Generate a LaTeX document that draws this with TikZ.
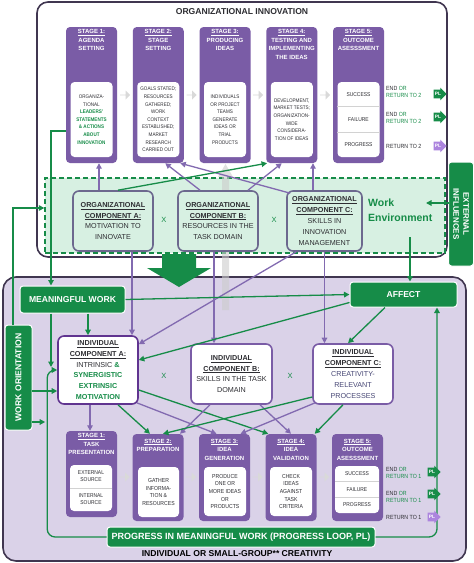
\documentclass[tikz,border=0pt]{standalone}
\usepackage{fontspec}
\setmainfont{Liberation Sans}
\newfontfamily\narrowsf[FakeStretch=0.88]{Liberation Sans}
\usetikzlibrary{arrows.meta,shapes.arrows}

\definecolor{stagepurple}{RGB}{122,92,166}
\definecolor{linepurple}{RGB}{130,106,176}
\definecolor{deeppurple}{RGB}{96,52,144}
\definecolor{leafgreen}{RGB}{22,140,72}
\definecolor{palegreen}{RGB}{215,240,226}
\definecolor{lavender}{RGB}{218,210,232}
\definecolor{framegray}{RGB}{64,54,80}
\definecolor{compgray}{RGB}{108,104,142}
\definecolor{inktext}{RGB}{45,45,50}
\definecolor{slatetext}{RGB}{72,72,118}
\definecolor{plpurple}{RGB}{172,132,222}

\begin{document}
\begin{tikzpicture}[x=1pt, y=-1pt, >={Triangle[length=5.5pt,width=5.5pt]},
  stagebox/.style={rounded corners=4pt, fill=stagepurple, minimum width=51pt, inner sep=0pt},
  headtxt/.style={anchor=north, inner sep=0pt, align=center, text=white, font=\bfseries\fontsize{6}{8.5}\selectfont},
  inbox/.style={rounded corners=4pt, fill=white, inner sep=0pt, align=center, text=inktext, font=\narrowsf\fontsize{5.2}{7.6}\selectfont},
  lowbox/.style={inbox, font=\narrowsf\fontsize{5.8}{7.7}\selectfont},
  celltxt/.style={inner sep=0pt, align=center, text=inktext, font=\narrowsf\fontsize{5.6}{7}\selectfont},
  sidetxt/.style={anchor=west, inner sep=0pt, align=left, text=inktext, font=\narrowsf\fontsize{6}{7.4}\selectfont},
  ocomp/.style={rounded corners=6pt, draw=compgray, line width=1.6pt, fill=palegreen, minimum width=80pt, minimum height=60pt, inner sep=0pt, align=center, text=inktext, font=\fontsize{7.2}{10.8}\selectfont},
  icomp/.style={ocomp, fill=white, draw=stagepurple},
  gbox/.style={rounded corners=3pt, fill=leafgreen, draw=white, line width=1pt, inner sep=0pt, text=white, align=center, font=\bfseries\fontsize{8.6}{10}\selectfont},
  grayarr/.style={single arrow, fill=gray!30, minimum width=9pt, minimum height=10pt, single arrow head extend=2pt, inner sep=0pt},
  plarr/.style={single arrow, fill=leafgreen, text=white, single arrow head extend=2pt, inner xsep=1pt, inner ysep=2.6pt, font=\bfseries\fontsize{4.8}{4.8}\selectfont},
  xmark/.style={text=leafgreen, font=\fontsize{7.5}{7.5}\selectfont},
  garrow/.style={->, draw=leafgreen, line width=1.3pt},
  parrow/.style={->, draw=linepurple, line width=1.3pt}]
\useasboundingbox (0,0) rectangle (474,563);

% the two frames
\node[draw=framegray, line width=1.6pt, fill=white, rounded corners=11pt, minimum width=410pt, minimum height=255pt] (orgframe) at (242,129.5) {};
\node[draw=framegray, line width=1.6pt, fill=lavender, rounded corners=13pt, minimum width=463pt, minimum height=284pt] (indframe) at (234.5,419) {};
\node[text=inktext, font=\bfseries\fontsize{8.6}{9}\selectfont] (orgtitle) at (242,12) {ORGANIZATIONAL INNOVATION};
\node[text=black, font=\bfseries\fontsize{8.6}{9}\selectfont] (indtitle) at (237,554) {INDIVIDUAL OR SMALL-GROUP** CREATIVITY};
\node[draw=leafgreen, fill=palegreen, dash pattern=on 5pt off 3pt, line width=1.3pt, minimum width=400pt, minimum height=75pt, inner sep=0pt] (workenv) at (245,215.5) {};

\fill[gray!40, opacity=0.6] (222,310) -- (229,310) -- (229,177) -- (233,177) -- (225.5,164) -- (218,177) -- (222,177) -- cycle;
\fill[leafgreen] (162,254) -- (196,254) -- (196,268) -- (211,268) -- (179,287) -- (147,268) -- (162,268) -- cycle;

% organizational stages
\foreach \n/\hd in {1/{AGENDA\\SETTING}, 2/{STAGE\\SETTING}, 3/{PRODUCING\\IDEAS}, 4/{TESTING AND\\IMPLEMENTING\\THE IDEAS}, 5/{OUTCOME\\ASESSSMENT}}
{
  \node[stagebox, minimum height=136pt] (ts\n) at ({91.5+66.75*(\n-1)},95) {};
  \node[headtxt] (th\n) at ([yshift=-2.5pt]ts\n.north) {\underline{STAGE \n:}\\\hd};
}
\node[inbox, minimum width=42pt, minimum height=75pt] (ti1) at (91.5,119.5) {ORGANIZA-\\TIONAL\\\textcolor{leafgreen}{\bfseries LEADERS'}\\\textcolor{leafgreen}{\bfseries STATEMENTS}\\\textcolor{leafgreen}{\bfseries \& ACTIONS}\\\textcolor{leafgreen}{\bfseries ABOUT}\\\textcolor{leafgreen}{\bfseries INNOVATION}};
\node[inbox, minimum width=42pt, minimum height=75pt] (ti2) at (158.25,119.5) {GOALS STATED;\\RESOURCES\\GATHERED;\\WORK\\CONTEXT\\ESTABLISHED;\\MARKET\\RESEARCH\\CARRIED OUT};
\node[inbox, minimum width=42pt, minimum height=75pt] (ti3) at (225,119.5) {INDIVIDUALS\\OR PROJECT\\TEAMS\\GENERATE\\IDEAS OR\\TRIAL\\PRODUCTS};
\node[inbox, minimum width=42pt, minimum height=75pt] (ti4) at (291.75,119.5) {DEVELOPMENT,\\MARKET TESTS;\\ORGANIZATION-\\WIDE\\CONSIDERA-\\TION OF IDEAS};
\node[inbox, minimum width=42pt, minimum height=75pt] (ti5) at (358.5,119.5) {};
\draw[gray!35, line width=1pt] ([yshift=-25pt]ti5.north west) -- ([yshift=-25pt]ti5.north east)
  ([yshift=25pt]ti5.south west) -- ([yshift=25pt]ti5.south east);
\node[celltxt] (tc1) at (358.5,94.5) {SUCCESS};
\node[celltxt] (tc2) at (358.5,119.5) {FAILURE};
\node[celltxt] (tc3) at (358.5,144.5) {PROGRESS};
\node[sidetxt] (tr1) at (386,92) {END \textcolor{leafgreen}{OR}\\\textcolor{leafgreen}{RETURN TO 2}};
\node[sidetxt] (tr2) at (386,118) {END \textcolor{leafgreen}{OR}\\\textcolor{leafgreen}{RETURN TO 2}};
\node[sidetxt] (tr3) at (386,146) {RETURN TO 2};

% organizational components
\node[ocomp] (oca) at (113,221) {\underline{\textbf{ORGANIZATIONAL}}\\\underline{\textbf{COMPONENT A:}}\\MOTIVATION TO\\INNOVATE};
\node[ocomp] (ocb) at (218,221) {\underline{\textbf{ORGANIZATIONAL}}\\\underline{\textbf{COMPONENT B:}}\\RESOURCES IN THE\\TASK DOMAIN};
\node[ocomp, minimum width=75pt] (occ) at (324.5,221) {\underline{\textbf{ORGANIZATIONAL}}\\\underline{\textbf{COMPONENT C:}}\\SKILLS IN\\INNOVATION\\MANAGEMENT};
\node[xmark] (ox1) at (164,220) {X};
\node[xmark] (ox2) at (274,220) {X};
\node[anchor=west, align=left, inner sep=0pt, text=leafgreen, font=\bfseries\fontsize{10.5}{15}\selectfont] (envtext) at (368,210.5) {Work\\Environment};
\coordinate (envin) at (426,203);
\coordinate (envout) at (410,237);

% green boxes
\node[gbox, minimum width=25pt, minimum height=104pt] (ext) at (461,214) {};
\node[rotate=-90, align=center, text=white, font=\bfseries\fontsize{8}{10}\selectfont] (extlabel) at (ext) {EXTERNAL\\INFLUENCES};
\node[gbox, minimum width=105pt, minimum height=27pt] (mw) at (72.5,299.5) {MEANINGFUL WORK};
\node[gbox, minimum width=107pt, minimum height=25pt] (aff) at (403.5,294.5) {AFFECT};
\node[gbox, minimum width=27pt, minimum height=105pt] (wo) at (18.5,377.5) {};
\node[rotate=90, text=white, font=\bfseries\fontsize{8.6}{10}\selectfont] (wolabel) at (wo) {WORK ORIENTATION};
\node[gbox, minimum width=268pt, minimum height=20pt, font=\bfseries\fontsize{9}{10}\selectfont] (pl) at (241,537) {PROGRESS IN MEANINGFUL WORK (PROGRESS LOOP, PL)};

% individual components
\node[icomp, draw=deeppurple, minimum height=68pt] (ica) at (98,370) {\underline{\textbf{INDIVIDUAL}}\\\underline{\textbf{COMPONENT A:}}\\INTRINSIC \textcolor{leafgreen}{\textbf{\&}}\\\textcolor{leafgreen}{\textbf{SYNERGISTIC}}\\\textcolor{leafgreen}{\textbf{EXTRINSIC}}\\\textcolor{leafgreen}{\textbf{MOTIVATION}}};
\node[icomp, minimum width=81pt] (icb) at (231.5,374) {\underline{\textbf{INDIVIDUAL}}\\\underline{\textbf{COMPONENT B:}}\\SKILLS IN THE TASK\\DOMAIN};
\node[icomp] (icc) at (353,374) {\underline{\textbf{INDIVIDUAL}}\\\underline{\textbf{COMPONENT C:}}\\\textcolor{slatetext}{CREATIVITY-}\\\textcolor{slatetext}{RELEVANT}\\\textcolor{slatetext}{PROCESSES}};
\node[xmark] (ix1) at (164,376) {X};
\node[xmark] (ix2) at (290,376) {X};
\coordinate (lp) at ([xshift=-10pt]ica.west);

% individual stages
\foreach \n/\hd/\yc/\hh/\gp in {1/{TASK\\PRESENTATION}/474/86pt/2.5pt, 2/{PREPARATION}/477.5/87pt/5pt, 3/{IDEA\\GENERATION}/477.5/87pt/5pt, 4/{IDEA\\VALIDATION}/477.5/87pt/5pt, 5/{OUTCOME\\ASESSSMENT}/477.5/87pt/5pt}
{
  \node[stagebox, minimum height=\hh] (bs\n) at ({91.5+66.5*(\n-1)},\yc) {};
  \node[headtxt] (bh\n) at ([yshift=-\gp]bs\n.north) {\underline{STAGE \n:}\\\hd};
}
\node[lowbox, minimum width=42pt, minimum height=46pt] (bi1) at (91,488) {};
\draw[gray!35, line width=1pt] (bi1.west) -- (bi1.east);
\node[celltxt] (bc1) at (91,476.5) {EXTERNAL\\SOURCE};
\node[celltxt] (bc2) at (91,499.5) {INTERNAL\\SOURCE};
\node[lowbox, minimum width=41pt, minimum height=50pt] (bi2) at (158.5,492) {GATHER\\INFORMA-\\TION \&\\RESOURCES};
\node[lowbox, minimum width=42pt, minimum height=49pt] (bi3) at (225,491.5) {PRODUCE\\ONE OR\\MORE IDEAS\\OR\\PRODUCTS};
\node[lowbox, minimum width=42pt, minimum height=49pt] (bi4) at (291,491.5) {CHECK\\IDEAS\\AGAINST\\TASK\\CRITERIA};
\node[lowbox, minimum width=44pt, minimum height=47pt] (bi5) at (357,489.5) {};
\draw[gray!35, line width=1pt] ([yshift=-15.7pt]bi5.north west) -- ([yshift=-15.7pt]bi5.north east)
  ([yshift=15.7pt]bi5.south west) -- ([yshift=15.7pt]bi5.south east);
\node[celltxt] (bc3) at (357,474) {SUCCESS};
\node[celltxt] (bc4) at (357,489.5) {FAILURE};
\node[celltxt] (bc5) at (357,505) {PROGRESS};
\node[sidetxt] (br1) at (386,473) {END \textcolor{leafgreen}{OR}\\\textcolor{leafgreen}{RETURN TO 1}};
\node[sidetxt] (br2) at (386,497) {END \textcolor{leafgreen}{OR}\\\textcolor{leafgreen}{RETURN TO 1}};
\node[sidetxt] (br3) at (386,517) {RETURN TO 1};

% connectors, organizational level
\draw[parrow] ([xshift=-14pt]oca.north) -- ([xshift=-14pt]oca.north |- ts1.south);
\draw[parrow] ([xshift=-11.5pt]occ.north) -- ([xshift=-11.5pt]occ.north |- ts4.south);
\draw[parrow] ([xshift=-18pt]ocb.north) -- ([xshift=7pt]ts2.south);
\draw[parrow] ([xshift=30pt]ocb.north) -- ([xshift=-10pt]ts4.south);
\draw[parrow] ([xshift=4pt,yshift=-3pt]occ.north west) -- ([xshift=22pt]ts2.south);
\draw[garrow] ([xshift=5pt]oca.north) -- ([xshift=1pt]ts4.south west);
\draw[garrow] ([yshift=-36pt]ts1.west) -| ([xshift=-21.5pt]mw.north);
\draw[garrow] ([xshift=-5.5pt,yshift=52.5pt]wo.center) |- ([yshift=7.5pt]workenv.west);
\draw[garrow] ([xshift=-12pt,yshift=11pt]ext.center) -- (envin);
\draw[garrow] (envout) -- (envout |- aff.north);

% connectors, organizational to individual
\draw[parrow] ([xshift=19pt]oca.south) -- ([xshift=19pt]oca.south |- ica.north);
\draw[parrow] ([xshift=-4pt]ocb.south) -- ([xshift=-4pt]ocb.south |- icb.north);
\draw[parrow] (occ.south) -- (occ.south |- icc.north);
\draw[parrow] ([xshift=10pt]occ.south west) -- ([yshift=-9pt]ica.north east);

% connectors, individual level
\draw[garrow] ([xshift=15.5pt]mw.south) -- ([xshift=15.5pt]mw.south |- ica.north);
\draw[garrow] ([xshift=-21.5pt]mw.south) -- ([xshift=-21.5pt,yshift=3pt]mw.south |- lp);
\draw[garrow] (mw.east) -- (aff.west);
\draw[garrow] ([yshift=-8pt]aff.west) -- ([yshift=10pt]ica.east);
\draw[garrow] ([xshift=-18.5pt]aff.south) -- ([xshift=-5pt]icc.north);
\coordinate (wo1) at ([xshift=13.5pt,yshift=-13.5pt]wo.center);
\coordinate (wo2) at ([xshift=13.5pt,yshift=-44.5pt]wo.center);
\draw[garrow] (wo1) -- (wo1 -| ica.west);
\draw[garrow] (wo2) -- ([xshift=-2pt]wo2 -| lp);
\draw[garrow, rounded corners=8pt] (pl.west) -| (lp) -- (ica.west);
\draw[garrow, rounded corners=8pt] (pl.east) -| ([xshift=33.5pt]aff.south);

% connectors, components to stages
\draw[parrow] ([xshift=-8pt]ica.south) -- ([xshift=-8pt]ica.south |- bs1.north);
\draw[garrow] ([xshift=20pt]ica.south) -- ([xshift=-8pt]bs2.north);
\draw[parrow] ([xshift=-2pt,yshift=2pt]ica.south east) -- ([xshift=-8pt]bs3.north);
\draw[garrow] ([yshift=-20pt]ica.east) -- ([xshift=3pt]bs4.north west);
\draw[parrow] ([xshift=-21.5pt]icb.south) -- ([xshift=22pt]bs2.north);
\draw[parrow] ([xshift=28.5pt]icb.south) -- (bs4.north);
\draw[garrow] ([yshift=-23pt]icc.west) -- ([xshift=5pt]bs2.north);
\draw[parrow] ([xshift=3pt,yshift=2pt]icc.south west) -- ([xshift=16pt]bs3.north);
\draw[garrow] ([xshift=-10pt]icc.south) -- ([xshift=-2pt]bs4.north east);

% small arrows
\foreach \x [count=\k] in {125,191.5,258,325} \node[grayarr] (tg\k) at (\x,95) {};
\foreach \x [count=\k] in {124.5,191,257.5,324} \node[grayarr] (bg\k) at (\x,477) {};
\node[plarr] (tp1) at (438,94) {PL};
\node[plarr] (tp2) at (438,117) {PL};
\node[plarr, fill=plpurple] (tp3) at (438,146) {PL};
\node[plarr] (bp1) at (432,472) {PL};
\node[plarr] (bp2) at (432,494) {PL};
\node[plarr, fill=plpurple] (bp3) at (432,517) {PL};
\end{tikzpicture}
\end{document}
